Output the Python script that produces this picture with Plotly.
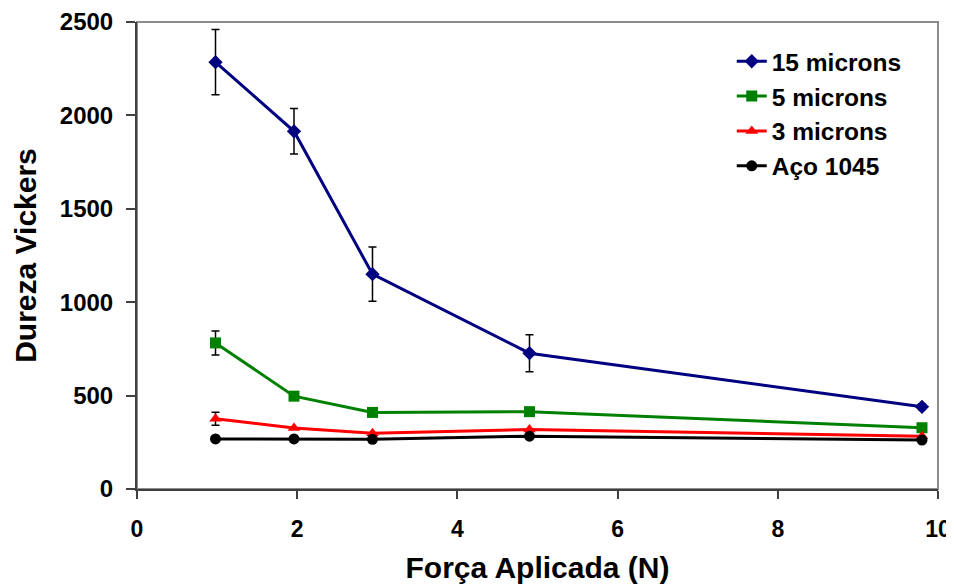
import plotly.graph_objects as go

forca = [0.98, 1.96, 2.94, 4.90, 9.80]

s15 = [2285, 1915, 1150, 727, 440]
s15_err = [175, 122, 145, 99, 15]

s5 = [782, 497, 410, 414, 328]
s5_err = [64, 0, 0, 0, 0]

s3 = [376, 326, 298, 319, 283]
s3_err = [35, 0, 0, 0, 0]

aco = [268, 268, 266, 283, 262]

names = ["15 microns", "5 microns", "3 microns", "Aço 1045"]
colors = ["#000080", "#008000", "#FF0000", "#000000"]
symbols = ["diamond", "square", "triangle-up", "circle"]

FONT = "Liberation Sans, Arial, sans-serif"

fig = go.Figure()

series = [(s15, s15_err), (s5, s5_err), (s3, s3_err), (aco, None)]
for i, (vals, err) in enumerate(series):
    kw = {}
    if err is not None:
        kw["error_y"] = dict(type="data", array=err, visible=True,
                             color="black", thickness=1.5, width=4)
    fig.add_trace(go.Scatter(
        x=forca, y=vals, name=names[i], mode="lines+markers",
        line=dict(color=colors[i], width=3),
        marker=dict(symbol=symbols[i], color=colors[i], size=11),
        legendgroup=names[i], cliponaxis=False,
        **kw))

fig.add_shape(type="rect", xref="paper", yref="paper", x0=0, x1=1, y0=0, y1=1,
              line=dict(color="#8c8c8c", width=2), layer="below")

# page body has an 8px margin, so the figure is sized to the visible area
fig.update_layout(
    width=946, height=580,
    margin=dict(l=129, r=16, t=14, b=99, autoexpand=False),
    paper_bgcolor="white", plot_bgcolor="white",
    font=dict(family=FONT, color="black"),
    showlegend=True,
    legend=dict(x=0.7425, y=0.964, xanchor="left", yanchor="top",
                font=dict(size=24.5, family=FONT, weight="bold"),
                bgcolor="rgba(0,0,0,0)", tracegroupgap=0),
    xaxis=dict(range=[0, 10], tickvals=[0, 2, 4, 6, 8, 10], automargin=False,
               ticks="outside", ticklen=8, tickwidth=1.5, tickcolor="#404040",
               showline=True, linecolor="#404040", linewidth=2,
               showgrid=False, zeroline=False,
               tickfont=dict(size=23, family=FONT, weight="bold"),
               ticklabelstandoff=10,
               title=dict(text="Força Aplicada (N)", standoff=16,
                          font=dict(size=30, family=FONT, weight="bold"))),
    yaxis=dict(range=[0, 2500], tickvals=[0, 500, 1000, 1500, 2000, 2500], automargin=False,
               ticks="outside", ticklen=9, tickwidth=1.5, tickcolor="#404040",
               showline=True, linecolor="#404040", linewidth=2,
               showgrid=False, zeroline=False,
               tickfont=dict(size=24, family=FONT, weight="bold"),
               ticklabelstandoff=8,
               title=dict(text="Dureza Vickers", standoff=14,
                          font=dict(size=30, family=FONT, weight="bold"))),
)

fig.write_html("out.html")
